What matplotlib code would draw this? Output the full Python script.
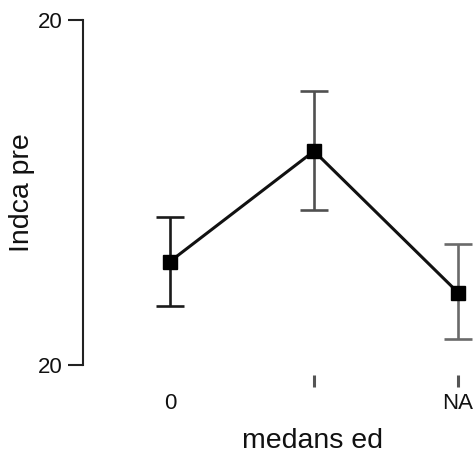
import matplotlib
matplotlib.use("Agg")
import matplotlib.pyplot as plt

# data
groups = [1, 2, 3]
group_labels = ["0", "", "NA"]
means = [23.0, 26.2, 22.1]
err_up = [1.3, 1.75, 1.4]
err_down = [1.3, 1.7, 1.35]
bar_colors = ["#1a1a1a", "#505050", "#6a6a6a"]
ytick_vals = [20, 30]
ytick_labels = ["20", "20"]

plt.rcParams["font.family"] = ["Liberation Sans", "DejaVu Sans"]

fig = plt.figure(figsize=(4.74, 4.54), dpi=100)
W, H = 474, 454
# axes box in pixels: x 83..474, y 20..365 (top-down)
ax = fig.add_axes([83 / W, (H - 365) / H, (474 - 83) / W, (365 - 20) / H])

ax.plot(groups, means, color="#111111", lw=2.2, zorder=3)
for x, m, u, d, c in zip(groups, means, err_up, err_down, bar_colors):
    ax.errorbar(x, m, yerr=[[d], [u]], color=c, lw=1.9, capsize=10,
                capthick=1.9, fmt="none", zorder=2)
ax.plot(groups, means, "s", color="black", ms=10, zorder=4)

ax.set_xlim(1 - 87 / 144, 3 + 16 / 144)
ax.set_ylim(20, 30)

ax.spines["top"].set_visible(False)
ax.spines["right"].set_visible(False)
ax.spines["left"].set_color("#222222")
ax.spines["left"].set_linewidth(1.5)
ax.spines["bottom"].set_position(("outward", 7.5))
ax.spines["bottom"].set_visible(False)

ax.set_yticks(ytick_vals)
ax.set_yticklabels(ytick_labels)
ax.set_xticks(groups)
ax.set_xticklabels(group_labels)
ax.tick_params(axis="y", length=11, width=1.5, color="#222222", pad=4,
               labelsize=16, labelcolor="#111111")
ax.tick_params(axis="x", length=8.5, width=2.2, color="#555555", pad=4,
               labelsize=16, labelcolor="#111111")
ax.xaxis.get_major_ticks()[0].tick1line.set_visible(False)

ax.set_xlabel("medans ed", fontsize=20.5, color="#111111")
ax.set_ylabel("Indca pre", fontsize=20.5, color="#111111")
ax.xaxis.set_label_coords((313 - 83) / 391, (365 - 428) / 345)
ax.yaxis.set_label_coords((35 - 83) / 391, (365 - 193) / 345)

fig.savefig("out.png", dpi=100)
